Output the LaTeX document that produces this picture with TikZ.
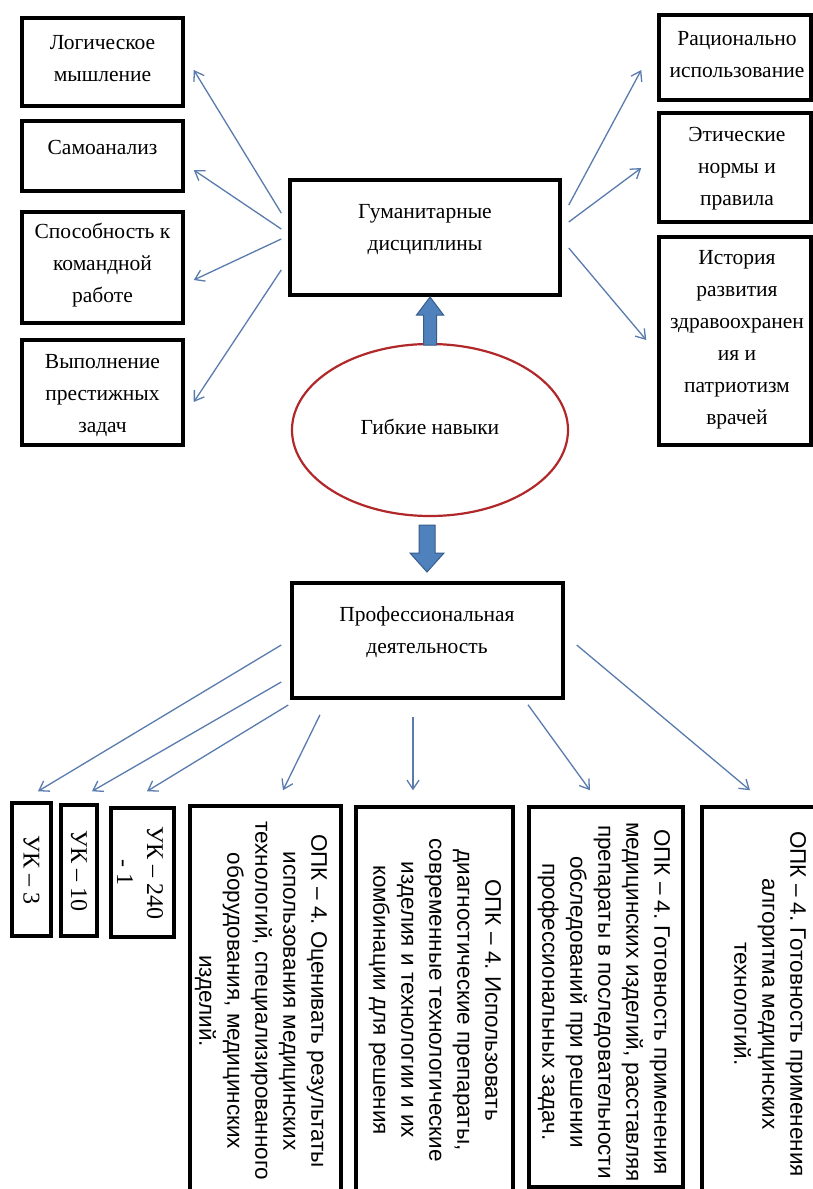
\documentclass[tikz,border=0pt]{standalone}
\usepackage{fontspec}
\setmainfont{Liberation Serif}
\newfontfamily\opkfont{Liberation Sans}
\usetikzlibrary{arrows.meta,calc,shapes.geometric}
\definecolor{conncol}{HTML}{5A7BAE}
\definecolor{blockfill}{HTML}{4F81BD}
\definecolor{blockdraw}{HTML}{385D8A}
\definecolor{ellred}{HTML}{B0282A}
\frenchspacing
\begin{document}
\begin{tikzpicture}[x=1pt,y=-1pt,
  box/.style={draw=black,line width=3.5pt,rectangle,inner sep=0pt},
  txt/.style={align=center,font=\fontsize{21.5}{32}\selectfont,inner sep=0pt},
  conn/.style={draw=conncol,line width=1.3pt,-{Straight Barb[length=9pt,width=12pt]}},
  opk/.style={align=center,rotate=-90,font=\opkfont\fontsize{22.5}{28}\selectfont,inner sep=0pt},
  uk/.style={align=center,rotate=-90,font=\fontsize{24}{30}\selectfont,inner sep=0pt},
  blockarrow/.style={fill=blockfill,draw=blockdraw,line width=1pt}]
\path[fill=white,use as bounding box] (0,0) rectangle (813,1189);

% left boxes
\node[box,minimum width=161pt,minimum height=88pt] (l1) at (102.5,62) {};
\node[txt] (tl1) at (102.5,59) {Логическое\\мышление};
\node[box,minimum width=161pt,minimum height=70pt] (l2) at (102.5,156) {};
\node[txt] (tl2) at (102.5,147) {Самоанализ};
\node[box,minimum width=161pt,minimum height=111pt] (l3) at (102.5,267.5) {};
\node[txt] (tl3) at (102.5,265) {Способность к\\командной\\работе};
\node[box,minimum width=161pt,minimum height=105pt] (l4) at (102.5,392.5) {};
\node[txt] (tl4) at (102.5,396) {Выполнение\\престижных\\задач};

% right boxes
\node[box,minimum width=152pt,minimum height=85pt] (r1) at (735,57.5) {};
\node[txt] (tr1) at (737,55) {Рационально\\использование};
\node[box,minimum width=152pt,minimum height=109pt] (r2) at (735,167.5) {};
\node[txt] (tr2) at (737,169) {Этические\\нормы и\\правила};
\node[box,minimum width=152pt,minimum height=208pt] (r3) at (735,341) {};
\node[txt] (tr3) at (737,340) {История\\развития\\здравоохранен\\ия и\\патриотизм\\врачей};

% centre
\node[box,minimum width=270pt,minimum height=115pt] (hum) at (425,237.5) {};
\node[txt] (thum) at (425,230) {Гуманитарные\\дисциплины};
\node[draw=ellred,line width=2.2pt,ellipse,minimum width=276pt,minimum height=172pt,inner sep=0pt] (soft) at (430,430) {};
\node[txt] (tsoft) at (430,427) {Гибкие навыки};
\node[box,minimum width=271pt,minimum height=115pt] (prof) at (427.5,640.5) {};
\node[txt] (tprof) at (427,632) {Профессиональная\\деятельность};

% block arrows
\path[blockarrow] (423.5,345) -- (423.5,315) -- (416.5,315) -- (430,297) -- (443.5,315) -- (436.5,315) -- (436.5,345) -- cycle;
\path[blockarrow] (419,525) -- (435,525) -- (435,553) -- (444,553) -- (427,572) -- (410,553) -- (419,553) -- cycle;

% bottom boxes
\node[box,minimum width=39pt,minimum height=133pt] (u1) at (31.5,869.5) {};
\node[uk] (tu1) at (31.5,869.5) {УК – 3};
\node[box,minimum width=36pt,minimum height=131pt] (u2) at (79,870.5) {};
\node[uk] (tu2) at (79,870.5) {УК – 10};
\node[box,minimum width=63pt,minimum height=129pt] (u3) at (142.5,872.5) {};
\node[uk] (tu3) at (140,872.5) {УК – 240\\- 1};
\node[box,minimum width=151pt,minimum height=399pt] (oA) at (265.5,1005.5) {};
\node[opk] (toA) at (261,1001) {ОПК – 4. Оценивать результаты\\использования медицинских\\технологий, специализированного\\оборудования, медицинских\\изделий.};
\node[box,minimum width=157pt,minimum height=398pt] (oB) at (434.5,1006) {};
\node[opk] (toB) at (435,1000) {ОПК – 4. Использовать\\диагностические препараты,\\современные технологические\\изделия и технологии и их\\комбинации для решения};
\node[box,minimum width=154pt,minimum height=380pt] (oC) at (606,997) {};
\node[opk] (toC) at (604,1002) {ОПК – 4. Готовность применения\\медицинских изделий, расставляя\\препараты в последовательности\\обследований при решении\\профессиональных задач.};
\node[box,minimum width=138pt,minimum height=398pt] (oD) at (771,1006) {};
\node[opk] (toD) at (770,1004) {ОПК – 4. Готовность применения\\алгоритма медицинских\\технологий.};

% connectors top-left
\draw[conn] ($(hum.west)+(-7,-24.5)$) -- ($(l1.east)+(9,8)$);
\draw[conn] ($(hum.west)+(-7,-8.5)$) -- ($(l2.east)+(9,14)$);
\draw[conn] ($(hum.west)+(-7,1.5)$) -- ($(l3.east)+(9,12.5)$);
\draw[conn] ($(hum.west)+(-7,32.5)$) -- ($(l4.east)+(9,9.5)$);
% connectors top-right
\draw[conn] ($(hum.east)+(7,-32.5)$) -- ($(r1.west)+(-16,12.5)$);
\draw[conn] ($(hum.east)+(7,-15.5)$) -- ($(r2.west)+(-16,0.5)$);
\draw[conn] ($(hum.east)+(7,10.5)$) -- ($(r3.west)+(-11,-1)$);
% connectors bottom
\draw[conn] ($(prof.west)+(-9,4.5)$) -- ($(u1.north)+(6.5,-10)$);
\draw[conn] ($(prof.west)+(-9,41.5)$) -- ($(u2.north)+(13,-12)$);
\draw[conn] ($(prof.west)+(-2,64.5)$) -- ($(u3.north)+(4.5,-15)$);
\draw[conn] ($(prof.south)+(-107.5,15)$) -- ($(oA.north)+(17.5,-14)$);
\draw[conn] ($(prof.south)+(-14.5,17)$) -- ($(oB.north)+(-21.5,-15)$);
\draw[conn] ($(prof.south)+(100.5,5)$) -- ($(oC.north)+(-16,-15)$);
\draw[conn] ($(prof.east)+(12,4.5)$) -- ($(oD.north)+(-21,-15)$);
\end{tikzpicture}
\end{document}
